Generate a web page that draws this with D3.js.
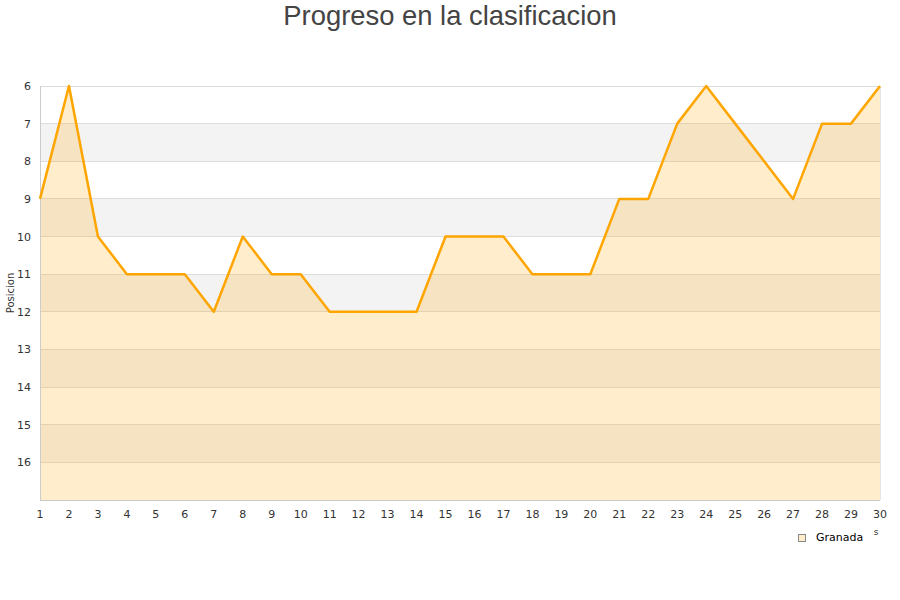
<!DOCTYPE html>
<html>
<head>
<meta charset="utf-8">
<script src="https://cdn.jsdelivr.net/npm/d3@7/dist/d3.min.js"></script>
<style>
  body { margin: 0; background: #fff; }
  text { font-family: "DejaVu Sans", sans-serif; }
</style>
</head>
<body>
<div id="chart"></div>
<script>
// jornadas y posiciones
var rounds = d3.range(1, 31);
var positions = [9, 6, 10, 11, 11, 11, 12, 10, 11, 11, 12, 12, 12, 12, 10,
                 10, 10, 11, 11, 11, 9, 9, 7, 6, 7, 8, 9, 7, 7, 6];
var yTicks = [6, 7, 8, 9, 10, 11, 12, 13, 14, 15, 16];
var team = 'Granada';

var width = 900, height = 600;
var margin = {top: 86, right: 20, bottom: 100, left: 40};

var svg = d3.select('#chart').append('svg')
    .attr('width', width)
    .attr('height', height);

var x = d3.scaleLinear().domain([1, 30]).range([margin.left, width - margin.right]);
var y = d3.scaleLinear().domain([6, 17]).range([margin.top, height - margin.bottom]);

// bandas alternas
svg.selectAll('rect.band')
    .data(d3.range(6, 17))
    .enter().append('rect')
    .attr('class', 'band')
    .attr('x', x(1))
    .attr('width', x(30) - x(1))
    .attr('y', d => y(d))
    .attr('height', d => y(d + 1) - y(d))
    .attr('fill', d => (d % 2 == 1) ? '#f3f3f3' : '#ffffff');

// rejilla
svg.selectAll('line.grid')
    .data(d3.range(6, 18))
    .enter().append('line')
    .attr('x1', x(1)).attr('x2', x(30))
    .attr('y1', d => y(d)).attr('y2', d => y(d))
    .attr('stroke', '#dddddd')
    .attr('stroke-width', 1)
    .attr('shape-rendering', 'crispEdges');

var area = d3.area()
    .x((d, i) => x(rounds[i]))
    .y0(y(17))
    .y1(d => y(d));

var line = d3.line()
    .x((d, i) => x(rounds[i]))
    .y(d => y(d));

svg.append('path')
    .datum(positions)
    .attr('d', area)
    .attr('fill', 'rgba(255,165,0,0.2)');

// marco
svg.append('line')
    .attr('x1', x(1)).attr('x2', x(1))
    .attr('y1', y(6)).attr('y2', y(17))
    .attr('stroke', '#cccccc').attr('shape-rendering', 'crispEdges');
svg.append('line')
    .attr('x1', x(30)).attr('x2', x(30))
    .attr('y1', y(6)).attr('y2', y(17))
    .attr('stroke', '#e6e6e6').attr('shape-rendering', 'crispEdges');
svg.append('line')
    .attr('x1', x(1)).attr('x2', x(30))
    .attr('y1', y(17)).attr('y2', y(17))
    .attr('stroke', '#cccccc').attr('shape-rendering', 'crispEdges');

svg.append('path')
    .datum(positions)
    .attr('d', line)
    .attr('fill', 'none')
    .attr('stroke', '#ffa500')
    .attr('stroke-width', 2.5)
    .attr('stroke-linejoin', 'round');

// etiquetas de ejes
svg.selectAll('text.ytick')
    .data(yTicks)
    .enter().append('text')
    .attr('x', 31)
    .attr('y', d => y(d) + 4)
    .attr('text-anchor', 'end')
    .attr('font-size', 11)
    .attr('fill', '#333')
    .text(d => d);

svg.selectAll('text.xtick')
    .data(rounds)
    .enter().append('text')
    .attr('x', d => x(d))
    .attr('y', 518)
    .attr('text-anchor', 'middle')
    .attr('font-size', 11)
    .attr('fill', '#333')
    .text(d => d);

svg.append('text')
    .attr('transform', 'translate(14,' + y(11.5) + ') rotate(-90)')
    .attr('text-anchor', 'middle')
    .attr('font-size', 10)
    .attr('fill', '#333')
    .text('Posicion');

svg.append('text')
    .attr('x', 876)
    .attr('y', 535)
    .attr('text-anchor', 'middle')
    .attr('font-size', 9)
    .attr('fill', '#333')
    .text('s');

// titulo
svg.append('text')
    .attr('x', width / 2)
    .attr('y', 25)
    .attr('text-anchor', 'middle')
    .style('font-family', '"Liberation Sans", Arial, sans-serif')
    .attr('font-size', 27.4)
    .attr('fill', '#444')
    .text('Progreso en la clasificacion');

// leyenda
svg.append('rect')
    .attr('x', 798.5).attr('y', 534.5)
    .attr('width', 7).attr('height', 7)
    .attr('fill', '#ffeecc')
    .attr('stroke', '#888');
svg.append('text')
    .attr('x', 816)
    .attr('y', 541)
    .attr('font-size', 11)
    .attr('fill', '#000')
    .text(team);
</script>
</body>
</html>
